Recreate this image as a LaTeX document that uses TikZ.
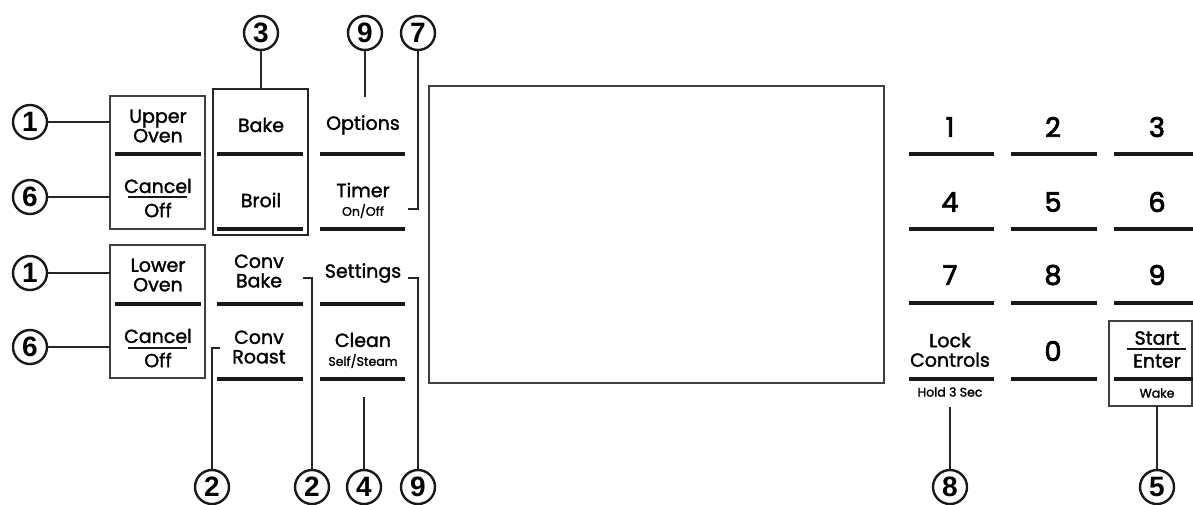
\documentclass[tikz,border=0pt]{standalone}
\usepackage{fontspec}
\setmainfont{Poppins}[FakeBold=1.6]
\newfontfamily\keyfont{Poppins}[FakeBold=3]
\newfontfamily\numfont{Liberation Sans}
\begin{document}
\begin{tikzpicture}[x=1pt,y=-1pt,
  callout/.style={circle, draw=black!90, line width=2.4pt, minimum size=34pt, inner sep=0pt,
    font=\numfont\bfseries\fontsize{28}{28}\selectfont},
  lbl/.style={align=center, inner sep=0pt, font=\fontsize{19}{19.5}\selectfont},
  small/.style={inner sep=0pt, font=\fontsize{12.5}{13}\selectfont},
  keyd/.style={inner sep=0pt, font=\keyfont\fontsize{27}{27}\selectfont},
  divider/.style={line width=3.4pt, black!90},
  uline/.style={line width=2.4pt, black!90},
  lead/.style={line width=2pt, black!85},
  frame/.style={draw=black!75, line width=1.3pt},
  heavyframe/.style={draw=black!85, line width=2pt}]
\useasboundingbox (0,0) rectangle (1193,504);

% ---------- upper oven block ----------
\draw[frame] (110,96) rectangle (205,229);
\node[lbl] (upper) at (158,126) {Upper\\Oven};
\draw[divider] (115,154) -- (201,154);
\node[lbl] (cancelA) at (158,186) {Cancel};
\draw[uline] (128,197) -- (187,197);
\node[lbl] (offA) at (158,210) {Off};
\coordinate (upperW) at (110,122);
\coordinate (cancelAW) at (110,197);

% ---------- lower oven block ----------
\draw[frame] (110,245) rectangle (205,378);
\node[lbl] (lower) at (158,275) {Lower\\Oven};
\draw[divider] (115,304) -- (201,304);
\node[lbl] (cancelB) at (158,336) {Cancel};
\draw[uline] (128,348) -- (187,348);
\node[lbl] (offB) at (158,360) {Off};
\coordinate (lowerW) at (110,273);
\coordinate (cancelBW) at (110,347);

% ---------- bake / broil ----------
\draw[heavyframe] (213,89) rectangle (308,235);
\coordinate (bakeN) at (261,89);
\node[lbl] (bake) at (261,125) {Bake};
\draw[divider] (217,154) -- (303,154);
\node[lbl] (broil) at (261,200) {Broil};
\draw[divider] (217,229) -- (303,229);

% ---------- conv ----------
\node[lbl] (convbake) at (259,271) {Conv\\Bake};
\draw[divider] (217,304) -- (303,304);
\node[lbl] (convroast) at (259,347) {Conv\\Roast};
\draw[divider] (217,379) -- (303,379);
\coordinate (cbE) at (303,278);
\coordinate (crW) at (220,348);

% ---------- options / timer / settings / clean ----------
\node[lbl] (options) at (363,125) {Options};
\draw[divider] (320,154) -- (405,154);
\node[lbl] (timer) at (363,190) {Timer};
\node[small] (onoff) at (363,211) {On/Off};
\draw[divider] (320,229) -- (405,229);
\node[lbl] (settings) at (363,273) {Settings};
\draw[divider] (320,304) -- (405,304);
\node[lbl] (clean) at (363,340) {Clean};
\node[small] (selfsteam) at (363,361) {Self/Steam};
\draw[divider] (320,379) -- (405,379);
\coordinate (optN) at (363,97);
\coordinate (timerE) at (408,209);
\coordinate (setE) at (408,278);
\coordinate (cleanS) at (364,397);

% ---------- display ----------
\node[frame, minimum width=455pt, minimum height=297pt, inner sep=0pt] (display) at (656.5,234.5) {};

% ---------- keypad ----------
\foreach \d/\x/\y in {1/950/127, 2/1053/127, 3/1157/127,
                      4/950/202, 5/1053/202, 6/1157/202,
                      7/950/275, 8/1053/275, 9/1157/275}
  \node[keyd] (k\d) at (\x,\y) {\d};
\foreach \y in {154,229,303}{
  \draw[divider] (909,\y) -- (994,\y);
  \draw[divider] (1011,\y) -- (1097,\y);
  \draw[divider] (1114,\y) -- (1193,\y);
}
\node[lbl] (lock) at (950,350) {Lock\\Controls};
\draw[divider] (909,379) -- (994,379);
\node[small] (hold) at (950,392) {Hold 3 Sec};
\coordinate (holdS) at (950,407);
\node[keyd] (k0) at (1053,351) {0};
\draw[divider] (1011,379) -- (1097,379);
\draw[frame] (1109,321) rectangle (1192,406);
\node[lbl] (start) at (1157,338) {Start};
\draw[uline] (1127,349) -- (1186,349);
\node[lbl] (enter) at (1157,361) {Enter};
\draw[divider] (1114,379) -- (1193,379);
\node[small] (wake) at (1157,393) {Wake};
\coordinate (startS) at (1157,406);

% ---------- callouts ----------
\node[callout] (c1a) at (30,122) {1};
\node[callout] (c6a) at (30,197) {6};
\node[callout] (c1b) at (30,273) {1};
\node[callout] (c6b) at (30,347) {6};
\node[callout] (c3) at (261,33) {3};
\node[callout] (c9a) at (365,33) {9};
\node[callout] (c7) at (418,33) {7};
\node[callout] (c2a) at (212,487) {2};
\node[callout] (c2b) at (312,487) {2};
\node[callout] (c4) at (364,487) {4};
\node[callout] (c9b) at (418,487) {9};
\node[callout] (c8) at (950,487) {8};
\node[callout] (c5) at (1157,487) {5};

\draw[lead] (c1a) -- (upperW);
\draw[lead] (c6a) -- (cancelAW);
\draw[lead] (c1b) -- (lowerW);
\draw[lead] (c6b) -- (cancelBW);
\draw[lead] (c3) -- (bakeN);
\draw[lead] (c9a.south) -- (optN -| c9a.south);
\draw[lead] (c7) |- (timerE);
\draw[lead] (crW) -| (c2a);
\draw[lead] (cbE) -| (c2b);
\draw[lead] (cleanS) -- (c4);
\draw[lead] (setE) -| (c9b);
\draw[lead] (holdS) -- (c8);
\draw[lead] (startS) -- (c5);
\end{tikzpicture}
\end{document}
